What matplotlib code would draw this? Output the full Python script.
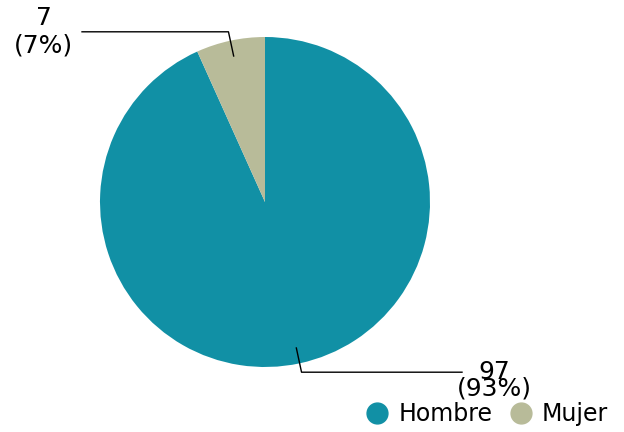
import numpy as np
import matplotlib.pyplot as plt
from matplotlib.lines import Line2D

categorias = ["Hombre", "Mujer"]
valores = [97, 7]
colores = ["#1190a5", "#b8bb99"]

W, H = 624, 432
fig = plt.figure(figsize=(W / 100, H / 100), dpi=100)
cx, cy, R = 265, 202, 165
ax = fig.add_axes([(cx - R) / W, (H - cy - R) / H, 2 * R / W, 2 * R / H])
ax.pie(valores, colors=colores, startangle=90, counterclock=False, radius=1,
       wedgeprops=dict(linewidth=0))
ax.set_xlim(-1, 1)
ax.set_ylim(-1, 1)
ax.set_aspect("auto")
ax.axis("off")

total = sum(valores)
# posiciones de las etiquetas a partir del ángulo medio de cada sector
inicio = 0.0
ajustes = {
    "Hombre": dict(xfin=1.194, xtxt=1.39, dy=-0.05, ls=0.62),
    "Mujer": dict(xfin=-1.109, xtxt=-1.34, dy=0.0, ls=1.15),
}
for cat, v in zip(categorias, valores):
    frac = v / total
    medio = (inicio + frac / 2) * 2 * np.pi
    inicio += frac
    sx, sy = np.sin(medio), np.cos(medio)
    p1 = (0.905 * sx, 0.905 * sy)
    p2 = (1.055 * sx, 1.055 * sy)
    a = ajustes[cat]
    ax.plot([p1[0], p2[0], a["xfin"]], [p1[1], p2[1], p2[1]], color="black",
            lw=1, clip_on=False)
    pct = round(frac * 100)
    ax.text(a["xtxt"], p2[1] + a["dy"], f"{v}\n({pct}%)", ha="center", va="center",
            fontsize=18, linespacing=a["ls"], clip_on=False)

handles = [Line2D([], [], marker="o", ls="", markersize=15, color=c) for c in colores]
fig.legend(handles, categorias, loc="lower right", bbox_to_anchor=(613 / W, 1 / H),
           ncol=2, frameon=False, fontsize=17, handletextpad=0.4, borderpad=0.2,
           borderaxespad=0, columnspacing=0.7, handlelength=1.0)

fig.savefig("out.png", dpi=100)
